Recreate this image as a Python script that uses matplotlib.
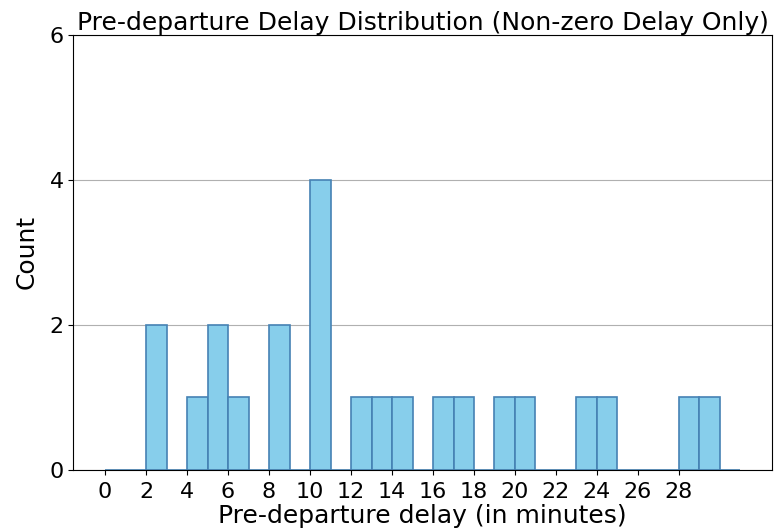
import matplotlib
matplotlib.use("Agg")
import matplotlib.pyplot as plt
import numpy as np

# non-zero pre-departure delays (minutes)
delays = [2, 2, 4, 5, 5, 6, 8, 8, 10, 10, 10, 10, 12, 13, 14,
          16, 17, 19, 20, 23, 24, 28, 29]
bin_edges = list(range(0, 32))
xticks = list(range(0, 30, 2))
yticks = [0, 2, 4, 6]

plt.rcParams['font.size'] = 16

fig = plt.figure(figsize=(7.8, 5.32), dpi=100)
ax = fig.add_axes([0.094, 0.117, 0.896, 0.817])
ax.hist(delays, bins=bin_edges, color='skyblue', edgecolor='steelblue', linewidth=1.2, zorder=2)
ax.grid(axis='y', color='#b0b0b0', linewidth=0.8, zorder=0)
ax.set_axisbelow(True)
ax.set_xticks(xticks)
ax.set_yticks(yticks)
ax.set_ylim(0, 6)
ax.tick_params(axis='x', pad=5)
ax.set_title("Pre-departure Delay Distribution (Non-zero Delay Only)", fontsize=18, pad=4)
ax.set_xlabel("Pre-departure delay (in minutes)", fontsize=18, labelpad=2)
ax.set_ylabel("Count", fontsize=18, labelpad=8)

fig.savefig("out.png", dpi=100)
